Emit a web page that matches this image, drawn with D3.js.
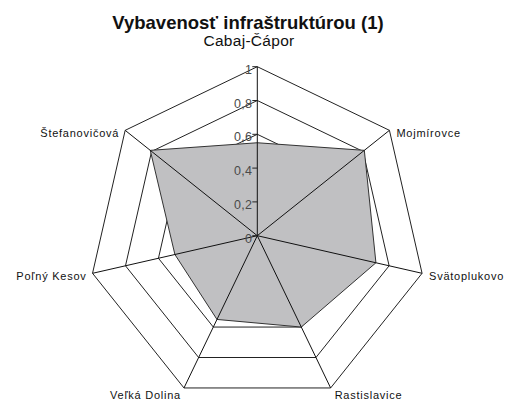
<!DOCTYPE html>
<html><head><meta charset="utf-8">
<script src="https://cdn.jsdelivr.net/npm/d3@7"></script>
<style>body{margin:0;background:#fff}svg{display:block}</style>
</head><body>
<svg id="c" width="505" height="401"></svg>
<script>
const categories = ["Cabaj-Čápor","Mojmírovce","Svätoplukovo","Rastislavice","Veľká Dolina","Poľný Kesov","Štefanovičová"];
const values = [0.55, 0.81, 0.72, 0.60, 0.55, 0.50, 0.81];
const tickValues = [0, 0.2, 0.4, 0.6, 0.8, 1];
const tickLabels = ["0","0,2","0,4","0,6","0,8","1"];
const title = "Vybavenosť infraštruktúrou (1)";

const svg = d3.select("#c");
const cx = 257.3, cy = 235.7, R = 169;
const r = d3.scaleLinear().domain([0,1]).range([0,R]);
const ang = d3.scaleLinear().domain([0, categories.length]).range([0, 2*Math.PI]);
const pt = (i, v) => [cx + r(v)*Math.sin(ang(i)), cy - r(v)*Math.cos(ang(i))];

// gridlines
const gridLevels = tickValues.filter(d => d > 0);
svg.append("g").selectAll("polygon").data(gridLevels).join("polygon")
  .attr("points", lv => categories.map((c,i) => pt(i, lv).join(",")).join(" "))
  .attr("fill","none").attr("stroke","#222").attr("stroke-width",1);

// filled area
svg.append("polygon")
  .attr("points", values.map((v,i) => pt(i, v).join(",")).join(" "))
  .attr("fill","#c0c0c2").attr("stroke","#333").attr("stroke-width",1);

// spokes
svg.append("g").selectAll("line").data(categories).join("line")
  .attr("x1",cx).attr("y1",cy)
  .attr("x2",(d,i)=>pt(i,1)[0]).attr("y2",(d,i)=>pt(i,1)[1])
  .attr("stroke","#111").attr("stroke-width",1);

// ticks on vertical axis
const tg = svg.append("g");
tg.selectAll("line").data(tickValues).join("line")
  .attr("x1",cx-5).attr("x2",cx).attr("y1",d=>cy-r(d)).attr("y2",d=>cy-r(d))
  .attr("stroke","#222");
tg.selectAll("text").data(tickValues).join("text")
  .attr("x",cx-5).attr("y",d=>cy-r(d)+3)
  .attr("text-anchor","end").attr("dominant-baseline","central")
  .attr("font-family","Liberation Sans, Arial, sans-serif").attr("font-size",12.5)
  .attr("letter-spacing",0.3)
  .attr("fill","#4a4a4a").text((d,i)=>tickLabels[i]);

// category labels
const lg = svg.append("g").attr("font-family","Liberation Sans, Arial, sans-serif")
  .attr("font-size",11).attr("letter-spacing",0.75).attr("fill","#111");
categories.forEach((c,i) => {
  if (i === 0) return;
  const [x,y] = pt(i,1);
  const s = Math.sin(ang(i)), co = Math.cos(ang(i));
  let tx, ty, anchor;
  if (co < -0.5) {
    anchor = s > 0 ? "start" : "end";
    tx = x + (s > 0 ? 4 : -3); ty = y + 7;
  } else {
    anchor = s > 0 ? "start" : "end";
    tx = x + (s > 0 ? 7 : -6); ty = y + 3;
  }
  lg.append("text").attr("x",tx).attr("y",ty).attr("text-anchor",anchor)
    .attr("dominant-baseline","central").text(c);
});
// top axis label (acts as subtitle)
svg.append("text").attr("x",249).attr("y",46).attr("text-anchor","middle")
  .attr("font-family","Liberation Sans, Arial, sans-serif").attr("font-size",15.5)
  .attr("letter-spacing",0.3)
  .attr("fill","#111").text(categories[0]);

svg.append("text").attr("x",248).attr("y",28.5).attr("text-anchor","middle")
  .attr("font-family","Liberation Sans, Arial, sans-serif").attr("font-size",18.5)
  .attr("font-weight","bold").attr("fill","#111").text(title);
</script>
</body></html>
